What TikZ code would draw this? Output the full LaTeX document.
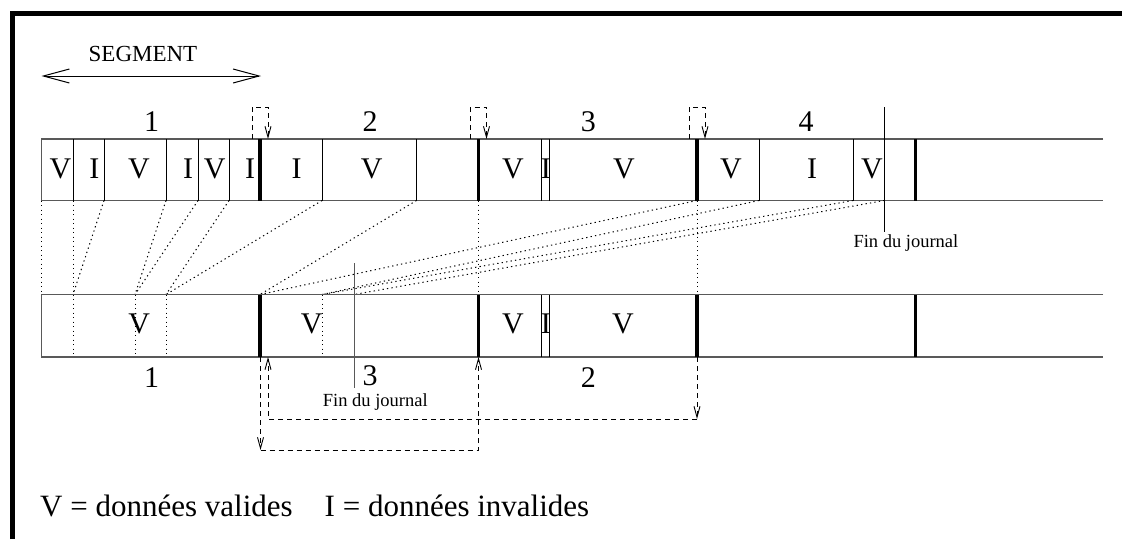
\documentclass[tikz,border=0pt]{standalone}
\usepackage{fontspec}
\setmainfont{Liberation Serif}
\usetikzlibrary{arrows.meta}
\tikzset{
  bigtxt/.style={font=\fontsize{30}{36}\selectfont, inner sep=0pt},
  legtxt/.style={font=\fontsize{31}{37}\selectfont, inner sep=0pt},
  smalltxt/.style={font=\fontsize{18.5}{22}\selectfont, inner sep=0pt},
  band/.style={draw=black!65, line width=1.2pt},
  cellsep/.style={line width=1pt},
  segsep/.style={line width=3.5pt},
  mapline/.style={line width=1pt, dash pattern=on 1.3pt off 3.2pt},
  loopline/.style={line width=0.9pt, dash pattern=on 5pt off 4pt, -{Straight Barb[length=11pt,width=6pt]}},
}

\begin{document}
\begin{tikzpicture}[x=1pt, y=-1pt]
\useasboundingbox (0,0) rectangle (1122,539);
\draw[line width=5.5pt] (12.5,539) -- (12.5,13.5) -- (1122,13.5);

\draw[line width=1pt, {Straight Barb[length=26pt,width=14pt]}-{Straight Barb[length=26pt,width=14pt]}] (41.5,76) -- (261,76);
\node[font=\fontsize{23}{27}\selectfont, inner sep=0pt] (segment) at (143,54) {SEGMENT};

% journal avant nettoyage
\draw[band] (1103,139) -- (41.5,139) -- (41.5,200.5) -- (1103,200.5);
\foreach \x in {73,104,166,198,229,322,416.5,541.5,549,759,853}
  \draw[cellsep] (\x,139) -- (\x,200.5);
\foreach \x in {260,478.5,697,915.5}
  \draw[segsep] (\x,139) -- (\x,200.5);
\foreach \x/\t in {60.5/V,94.3/I,139/V,188/I,214.7/V,250/I,296.7/I,371.7/V,513/V,545.8/I,624/V,731/V,812/I,872/V}
  \node[bigtxt, anchor=base] at (\x,178) {\t};
\foreach \x/\t in {151.7/1,370/2,588.3/3,806/4}
  \node[bigtxt, anchor=base] at (\x,131.5) {\t};
\foreach \x in {260,478.5,697}
  \draw[loopline] (\x-8,139) -- (\x-8,107) -- (\x+8,107) -- (\x+8,139);
\draw[line width=1pt] (884.5,107) -- (884.5,232);
\node[smalltxt, anchor=base west] (fintop) at (853.3,247.7) {Fin du journal};

% correspondances
\foreach \a/\b in {41.5/41.5,73/73,104/73,166/135,198/135,229/166,322/166,416.5/260,478.5/478.5,697/697,697/260,759/322,853/322,884.5/354}
  \draw[mapline] (\a,200.5) -- (\b,294.5);

% journal apres nettoyage
\draw[band] (1103,294.5) -- (41.5,294.5) -- (41.5,357) -- (1103,357);
\foreach \x in {73,135,166,322}
  \draw[mapline] (\x,294.5) -- (\x,357);
\foreach \x in {541.5,549}
  \draw[cellsep] (\x,294.5) -- (\x,357);
\foreach \x in {260,478.5,697,915.5}
  \draw[segsep] (\x,294.5) -- (\x,357);
\foreach \x/\t in {139.3/V,311.7/V,513/V,545.8/I,623/V}
  \node[bigtxt, anchor=base] at (\x,333.5) {\t};
\foreach \x/\t in {151.7/1,588.3/2}
  \node[bigtxt, anchor=base] at (\x,387) {\t};
\node[bigtxt, anchor=base] (trois) at (370,385) {3};
\draw[line width=1pt, black!65] (354,263) -- (354,388);
\node[smalltxt, anchor=base west] (finbas) at (322.7,406) {Fin du journal};

\draw[loopline] (260.5,357) -- (260.5,450);
\draw[loopline] (260.5,450) -- (478.5,450) -- (478.5,357);
\draw[loopline] (697,357) -- (697,419);
\draw[loopline] (697,419) -- (268,419) -- (268,357);

\node[legtxt, anchor=base west] (legende) at (40,516) {V = données valides\hspace{32pt}I = données invalides};
\end{tikzpicture}
\end{document}
